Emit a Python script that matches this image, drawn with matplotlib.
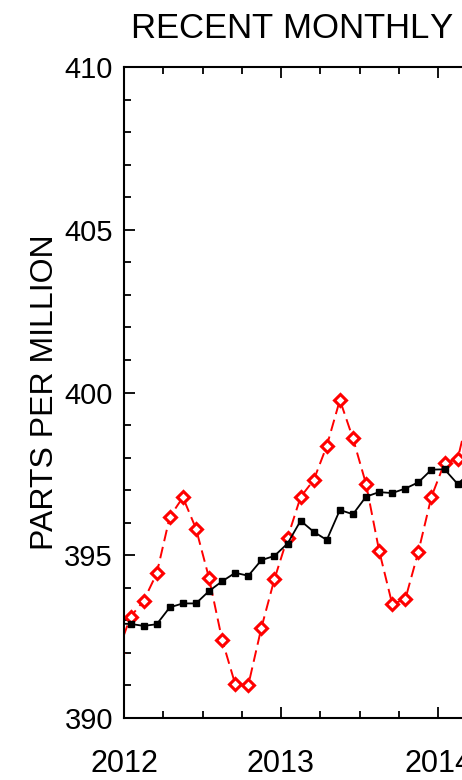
import numpy as np
import matplotlib
matplotlib.use('Agg')
import matplotlib.pyplot as plt
from matplotlib.ticker import MultipleLocator

plt.rcParams['font.family'] = ['Liberation Sans', 'DejaVu Sans']

# monthly mean CO2 (red) and deseasonalized trend (black), Dec 2011 .. Mar 2014
start_year = 2011
start_month = 12
monthly_mean = [392.0, 393.11, 393.60, 394.44, 396.18, 396.78, 395.82, 394.30, 392.40,
                391.04, 391.01, 392.77, 394.27, 395.54, 396.79, 397.31, 398.36,
                399.77, 398.59, 397.19, 395.14, 393.50, 393.65, 395.11, 396.80,
                397.84, 397.95, 399.65]
trend = [392.9, 392.89, 392.83, 392.88, 393.40, 393.52, 393.52, 393.90, 394.20,
         394.46, 394.37, 394.85, 394.98, 395.36, 396.06, 395.72, 395.47,
         396.39, 396.26, 396.80, 396.94, 396.91, 397.05, 397.24, 397.63,
         397.64, 397.19, 397.55]

n = len(monthly_mean)
months = np.arange(n) + (start_month - 1)
t = start_year + (months + 0.5) / 12.0

W, H = 462, 780
fig = plt.figure(figsize=(W / 100, H / 100), dpi=100)
x0, y_top, y_bot = 124, 67, 718
year_px = 157
ax = fig.add_axes([x0 / W, 1 - y_bot / H, 4 * year_px / W, (y_bot - y_top) / H])

ax.plot(t, monthly_mean, color='red', lw=1.4, ls=(0, (6, 3)),
        marker='D', ms=6, mfc='white', mec='red', mew=2.2, clip_on=True)
ax.plot(t, trend, color='black', lw=1.3, marker='s', ms=3.8, clip_on=True)

ax.set_xlim(2012, 2016)
ax.set_ylim(390, 410)
ax.xaxis.set_major_locator(MultipleLocator(1))
ax.xaxis.set_minor_locator(MultipleLocator(0.25))
ax.yaxis.set_major_locator(MultipleLocator(5))
ax.yaxis.set_minor_locator(MultipleLocator(1))
ax.tick_params(which='both', direction='in', top=True, right=True, width=1.3)
ax.tick_params(which='major', length=8)
ax.tick_params(which='minor', length=5)
ax.tick_params(axis='y', labelsize=21, pad=8)
ax.tick_params(axis='x', labelsize=22, pad=22)
ax.set_xticklabels([f'{int(v)}' for v in ax.get_xticks()])
for s in ax.spines.values():
    s.set_linewidth(1.5)

ax.set_ylabel('PARTS PER MILLION', fontsize=23, labelpad=3)
fig.text(130 / W, 1 - 29 / H, 'RECENT MONTHLY MEAN CO$_2$ AT MAUNA LOA',
         fontsize=25, ha='left', va='center')

fig.savefig('out.png', dpi=100)
